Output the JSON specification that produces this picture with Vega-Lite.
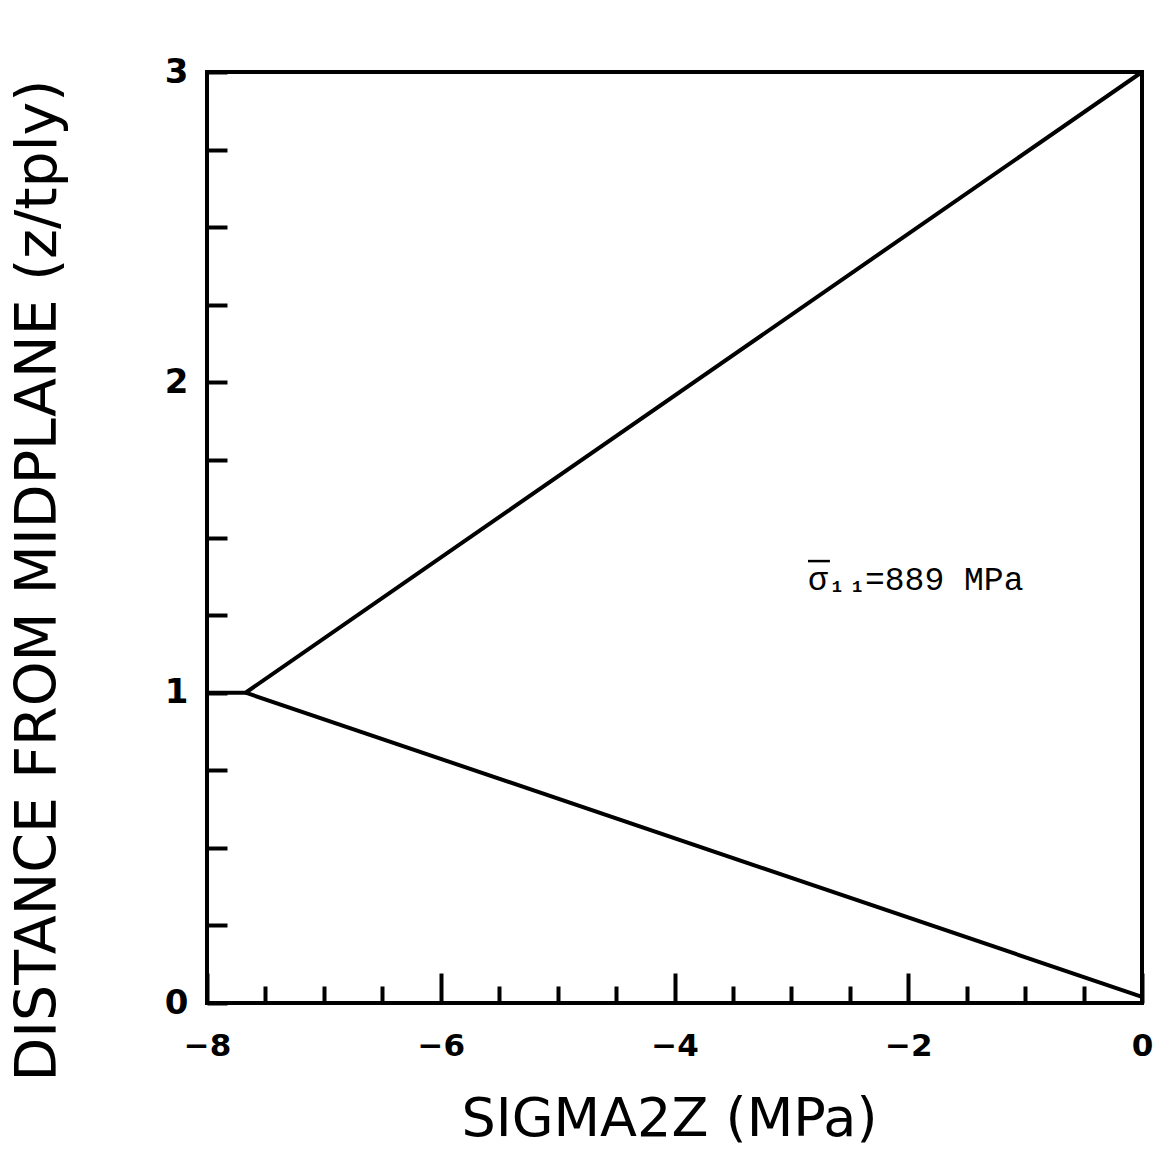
{
  "$schema": "https://vega.github.io/schema/vega-lite/v6.json",
  "autosize": {"type": "none"},
  "width": 935,
  "height": 931,
  "padding": {"left": 207, "top": 72, "right": 11, "bottom": 157},
  "background": "white",
  "config": {
    "view": {"stroke": "black", "strokeWidth": 4},
    "axis": {"domain": false, "grid": false, "tickColor": "black", "tickWidth": 4, "labelColor": "black", "titleColor": "black", "labelFont": "DejaVu Sans", "titleFont": "DejaVu Sans", "labelFontWeight": "bold", "titleFontWeight": "normal"}
  },
  "data": {
    "values": [
      {"seg": "upper", "i": 0, "x": -8, "z": 1},
      {"seg": "upper", "i": 1, "x": -7.67, "z": 1},
      {"seg": "upper", "i": 2, "x": 0, "z": 3},
      {"seg": "lower", "i": 0, "x": -7.67, "z": 1},
      {"seg": "lower", "i": 1, "x": 0, "z": 0.02}
    ]
  },
  "layer": [
    {
      "mark": {"type": "line", "color": "black", "strokeWidth": 4},
      "encoding": {
        "x": {
          "field": "x", "type": "quantitative",
          "scale": {"domain": [-8, 0], "nice": false, "zero": false},
          "axis": {
            "values": [-8, -7.5, -7, -6.5, -6, -5.5, -5, -4.5, -4, -3.5, -3, -2.5, -2, -1.5, -1, -0.5, 0],
            "tickSize": {"condition": {"test": "datum.value % 2 === 0", "value": -30}, "value": -17},
            "labelExpr": "datum.value % 2 === 0 ? format(datum.value, 'd') : ''",
            "labelFlush": false,
            "labelFontSize": 31,
            "labelPadding": 58,
            "title": "SIGMA2Z (MPa)",
            "titleFontSize": 54,
            "titleBaseline": "alphabetic",
            "titleX": 462,
            "titleY": 132
          }
        },
        "y": {
          "field": "z", "type": "quantitative",
          "scale": {"domain": [0, 3], "nice": false},
          "axis": {
            "values": [0, 0.25, 0.5, 0.75, 1, 1.25, 1.5, 1.75, 2, 2.25, 2.5, 2.75, 3],
            "tickSize": -20,
            "labelExpr": "datum.value % 1 === 0 ? format(datum.value, 'd') : ''",
            "labelFlush": false,
            "labelFontSize": 34,
            "labelPadding": 39,
            "title": "DISTANCE FROM MIDPLANE (z/tply)",
            "titleFontSize": 57,
            "titleBaseline": "alphabetic",
            "titleX": -152,
            "titleY": 508
          }
        },
        "detail": {"field": "seg"},
        "order": {"field": "i"}
      }
    },
    {
      "data": {"values": [{"x": -2.858, "z": 1.363, "t": "σ"}, {"x": -2.37, "z": 1.363, "t": "=889 MPa"}]},
      "mark": {"type": "text", "align": "left", "baseline": "middle", "font": "Liberation Mono", "fontSize": 33, "color": "black"},
      "encoding": {
        "x": {"field": "x", "type": "quantitative"},
        "y": {"field": "z", "type": "quantitative"},
        "text": {"field": "t"}
      }
    },
    {
      "data": {"values": [{"x": -2.655, "z": 1.342, "t": "1 1"}]},
      "mark": {"type": "text", "align": "left", "baseline": "middle", "font": "Liberation Mono", "fontSize": 17, "fontWeight": "bold", "color": "black"},
      "encoding": {
        "x": {"field": "x", "type": "quantitative"},
        "y": {"field": "z", "type": "quantitative"},
        "text": {"field": "t"}
      }
    },
    {
      "data": {"values": [{"x": -2.858, "x2": -2.67, "z": 1.424}]},
      "mark": {"type": "rule", "color": "black", "strokeWidth": 2.5},
      "encoding": {
        "x": {"field": "x", "type": "quantitative"},
        "x2": {"field": "x2"},
        "y": {"field": "z", "type": "quantitative"}
      }
    }
  ]
}
